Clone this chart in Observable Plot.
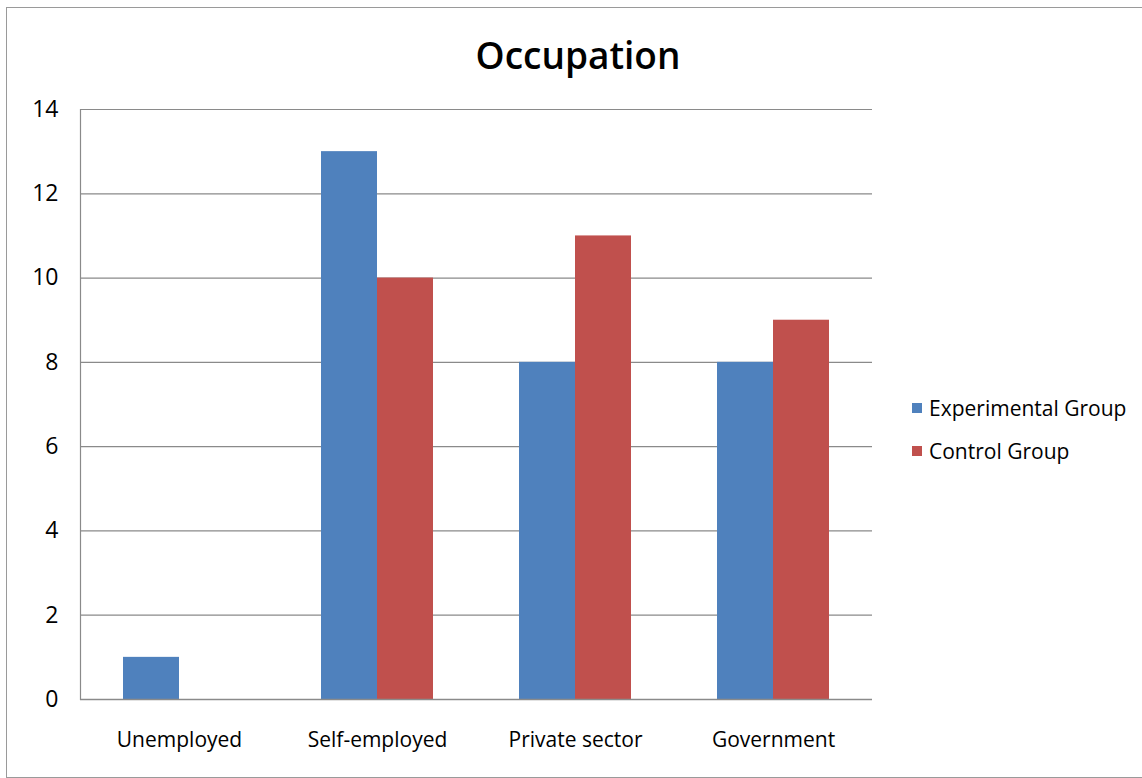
<!DOCTYPE html>
<html>
<head>
<meta charset="utf-8">
<script src="https://cdn.jsdelivr.net/npm/d3@7"></script>
<script src="https://cdn.jsdelivr.net/npm/@observablehq/plot@0.6"></script>
<style>
  html, body { margin: 0; padding: 0; background: #fff; }
  #frame {
    position: relative; width: 1142px; height: 778px; overflow: hidden;
    font-family: "Open Sans", Lato, sans-serif; color: #000;
  }
  #border {
    position: absolute; left: 6px; top: 7px; width: 1150px; height: 771px;
    border: 1.5px solid #9a9a9a; box-sizing: border-box;
  }
  #title {
    position: absolute; left: 0; top: 33px; width: 1156px; text-align: center;
    font-size: 37px; font-weight: 600; line-height: 1.2;
  }
  #chart { position: absolute; left: 0; top: 90px; }
  #legend { position: absolute; left: 912px; top: 393px; font-size: 21px; }
  .item { display: flex; align-items: center; height: 30px; margin-bottom: 13px; }
  .swatch { width: 10px; height: 10px; margin-right: 7px; }
</style>
</head>
<body>
<div id="frame">
  <div id="border"></div>
  <div id="title">Occupation</div>
  <div id="chart"></div>
  <div id="legend"></div>
</div>
<script>
// Occupation counts for the two study groups
const categories = ["Unemployed", "Self-employed", "Private sector", "Government"];
const groups = ["Experimental Group", "Control Group"];
const experimental = [1, 13, 8, 8];
const control = [0, 10, 11, 9];
const yTicks = [0, 2, 4, 6, 8, 10, 12, 14];
const colors = ["#4F81BD", "#C0504D"];

const rows = [];
categories.forEach((c, i) => {
  rows.push({category: c, group: groups[0], value: experimental[i]});
  rows.push({category: c, group: groups[1], value: control[i]});
});

const chart = Plot.plot({
  width: 880,
  height: 669,
  marginLeft: 79,
  marginRight: 8,
  marginTop: 19,
  marginBottom: 60,
  style: {fontFamily: "'Open Sans', Lato, sans-serif", color: "#000", overflow: "visible"},
  fx: {domain: categories, padding: 0, axis: null, label: null},
  x: {domain: groups, paddingInner: 0, paddingOuter: 0.737, axis: null, label: null},
  y: {domain: [0, 14], ticks: yTicks, axis: null, label: null},
  color: {domain: groups, range: colors},
  marks: [
    Plot.gridY(yTicks.filter(t => t > 0), {stroke: "#8a8a8a", strokeOpacity: 1, strokeWidth: 1.2}),
    Plot.barY(rows, {fx: "category", x: "group", y: "value", fill: "group"}),
    Plot.axisY({ticks: yTicks, tickSize: 0, tickPadding: 22, fontSize: 23, fontWeight: 500, fill: "#000"}),
    Plot.axisFx({anchor: "bottom", tickSize: 0, tickPadding: 33, fontSize: 21, fontWeight: 500, fill: "#000"}),
    Plot.frame({anchor: "left", facetAnchor: "left", stroke: "#8a8a8a", strokeWidth: 1.2}),
    Plot.ruleY([0], {stroke: "#8a8a8a", strokeWidth: 1.5})
  ]
});
document.getElementById("chart").appendChild(chart);

const legend = document.getElementById("legend");
groups.forEach((g, i) => {
  const item = document.createElement("div");
  item.className = "item";
  const sw = document.createElement("div");
  sw.className = "swatch";
  sw.style.background = colors[i];
  const label = document.createElement("span");
  label.textContent = g;
  item.appendChild(sw);
  item.appendChild(label);
  legend.appendChild(item);
});
</script>
</body>
</html>
